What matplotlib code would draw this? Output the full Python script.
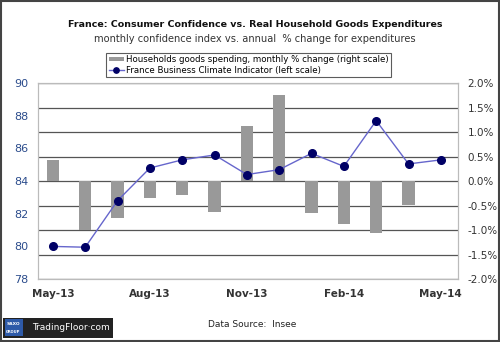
import numpy as np
import matplotlib.pyplot as plt
from matplotlib.patches import Rectangle
from matplotlib.ticker import FuncFormatter

# monthly data, May-13 .. May-14
months = ["May-13", "Jun-13", "Jul-13", "Aug-13", "Sep-13", "Oct-13", "Nov-13",
          "Dec-13", "Jan-14", "Feb-14", "Mar-14", "Apr-14", "May-14"]
spending = [0.44, -0.99, -0.75, -0.35, -0.28, -0.64, 1.12,
            1.76, -0.65, -0.87, -1.06, -0.48, np.nan]  # % change, right scale
climate = [80.0, 79.95, 82.8, 84.8, 85.3, 85.6, 84.4,
           84.7, 85.7, 84.9, 87.7, 85.05, 85.3]  # left scale

fig = plt.figure(figsize=(5, 3.42), dpi=100)
fig.patch.set_facecolor("white")

ax = fig.add_axes([0.076, 0.184, 0.84, 0.573])
ax2 = ax.twinx()

x = np.arange(len(months))

# bars on right axis, drawn behind the line
ax2.bar(x, spending, width=0.38, color="#999999", zorder=2,
        label="Households goods spending, monthly % change (right scale)")
ax2.set_ylim(-2, 2)
ax2.set_yticks(np.arange(-2, 2.01, 0.5))
ax2.yaxis.set_major_formatter(FuncFormatter(lambda v, p: f"{v:.1f}%"))
ax2.grid(axis="y", color="#555555", linewidth=0.9, zorder=0)
ax2.set_axisbelow(True)

ax.set_zorder(ax2.get_zorder() + 1)
ax.patch.set_visible(False)
ax.plot(x, climate, color="#6666CC", linewidth=1.0, marker="o", markersize=5.5,
        markerfacecolor="#000066", markeredgecolor="#000066",
        label="France Business Climate Indicator (left scale)")
ax.set_ylim(78, 90)
ax.set_yticks(range(78, 91, 2))
ax.set_xlim(-0.46, 12.53)
ax.set_xticks(x[::3])
ax.set_xticklabels(months[::3])

for a in (ax, ax2):
    for s in a.spines.values():
        s.set_color("#bbbbbb")
        s.set_linewidth(0.8)
    a.tick_params(length=0)

ax.tick_params(axis="y", labelcolor="#2B4C8C", labelsize=8, pad=7)
ax.tick_params(axis="x", labelcolor="#333333", labelsize=7.5, pad=7)
for t in ax.get_xticklabels():
    t.set_fontweight("bold")
ax2.tick_params(axis="y", labelcolor="#333333", labelsize=7.5, pad=7)

# legend
h1, l1 = ax2.get_legend_handles_labels()
h2, l2 = ax.get_legend_handles_labels()
leg = fig.legend(h1 + h2, l1 + l2, loc="center", bbox_to_anchor=(0.497, 0.81),
                 fontsize=6.2, frameon=True, fancybox=False, handlelength=1.8,
                 handleheight=0.4, handletextpad=0.2, borderpad=0.3, labelspacing=0.2,
                 borderaxespad=0, markerscale=0.7)
leg.get_frame().set_edgecolor("#333333")
leg.get_frame().set_linewidth(0.8)

# titles
fig.text(0.51, 0.927, "France: Consumer Confidence vs. Real Household Goods Expenditures",
         ha="center", va="center", fontsize=6.8, fontweight="bold", color="#111111")
fig.text(0.51, 0.885, "monthly confidence index vs. annual  % change for expenditures",
         ha="center", va="center", fontsize=7.1, color="#333333")

fig.text(0.505, 0.052, "Data Source:  Insee", ha="center", va="center",
         fontsize=6.5, color="#222222")

# TradingFloor logo
fig.patches.append(Rectangle((0.006, 0.012), 0.22, 0.058, transform=fig.transFigure,
                             facecolor="#222222", edgecolor="none"))
fig.patches.append(Rectangle((0.009, 0.018), 0.036, 0.048, transform=fig.transFigure,
                             facecolor="#2E5AA8", edgecolor="none"))
fig.text(0.027, 0.053, "SAXO", ha="center", va="center", fontsize=3.2,
         color="white", fontweight="bold")
fig.text(0.027, 0.03, "GROUP", ha="center", va="center", fontsize=2.6,
         color="white", fontweight="bold")
fig.text(0.141, 0.043, "TradingFloor·com", ha="center", va="center",
         fontsize=6.5, color="white")

# outer border
fig.patches.append(Rectangle((0.002, 0.003), 0.995, 0.994, transform=fig.transFigure,
                             facecolor="none", edgecolor="#444444", linewidth=1.5))

plt.savefig("out.png", dpi=100)
